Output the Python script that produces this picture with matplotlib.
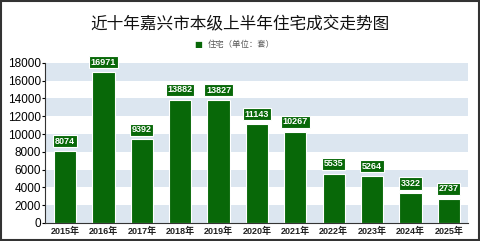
import numpy as np
import matplotlib

matplotlib.use('Agg')
import matplotlib.pyplot as plt
from matplotlib.patches import Rectangle

plt.rcParams['font.family'] = ['Liberation Sans', 'Noto Sans CJK SC', 'DejaVu Sans']

# 数据
years = ['2015年', '2016年', '2017年', '2018年', '2019年', '2020年',
         '2021年', '2022年', '2023年', '2024年', '2025年']
sales = [8074, 16971, 9392, 13882, 13827, 11143, 10267, 5535, 5264, 3322, 2737]
yticks = list(range(0, 18001, 2000))

green = '#086808'
band = '#dce6f0'

fig = plt.figure(figsize=(4.8, 2.41), dpi=100)
ax = fig.add_axes([0.094, 0.075, 0.881, 0.664])

# 交替色带
for i, lo in enumerate(yticks[:-1]):
    if i % 2 == 0:
        ax.axhspan(lo, lo + 2000, color=band, lw=0, zorder=0)

x = np.arange(len(years))
ax.bar(x, sales, width=0.58, color=green, edgecolor='white', linewidth=0.8, zorder=2)

for xi, v in zip(x, sales):
    ax.text(xi, v + 1100, str(v), ha='center', va='center', color='white',
            fontsize=6.5, fontweight='bold', zorder=3, clip_on=False,
            bbox=dict(boxstyle='square,pad=0.18', fc=green, ec='white', lw=0.8))

ax.set_xlim(-0.52, 10.5)
ax.set_ylim(0, 18000)
ax.set_yticks(yticks)
ax.set_yticklabels([str(t) for t in yticks], fontsize=8.5)
ax.set_xticks(x)
ax.set_xticklabels(years, fontsize=6.5, fontweight='bold', color='#222222')
ax.tick_params(axis='x', length=0, pad=3)
ax.tick_params(axis='y', length=2, pad=1)
for s in ['top', 'right']:
    ax.spines[s].set_visible(False)
ax.spines['left'].set_color('#333333')
ax.spines['bottom'].set_color('#333333')

fig.text(0.5, 0.895, '近十年嘉兴市本级上半年住宅成交走势图', ha='center', va='center',
         fontsize=12, family=['Noto Sans CJK SC'], color='#111111')
fig.text(0.412, 0.815, '■', ha='center', va='center', fontsize=6, color=green,
         family=['DejaVu Sans'])
fig.text(0.433, 0.815, '住宅（单位：套）', ha='left', va='center', fontsize=6,
         family=['Noto Sans CJK SC'], color='#555555')

fig.patches.append(Rectangle((0.002, 0.004), 0.996, 0.992, transform=fig.transFigure,
                             fill=False, ec='#333333', lw=1.5))

fig.savefig('out.png', dpi=100)
